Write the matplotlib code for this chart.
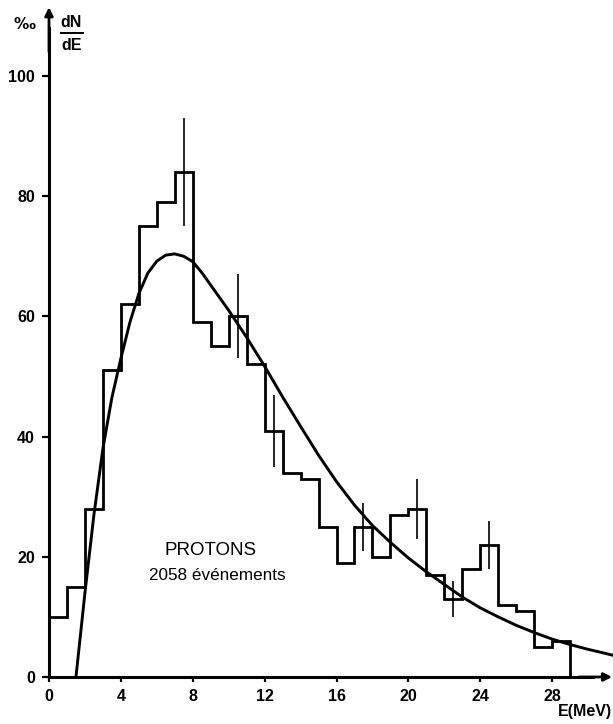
import matplotlib
matplotlib.use("Agg")
import matplotlib.pyplot as plt

# Proton energy spectrum: 1 MeV bins from 0 to 29 MeV (per mille)
bin_edges = list(range(0, 30))
counts = [10, 15, 28, 51, 62, 75, 79, 84, 59, 55, 60, 52, 41, 34, 33,
          25, 19, 25, 20, 27, 28, 17, 13, 18, 22, 12, 11, 5, 6]

# Statistical error bars on selected bins
err_E = [7.5, 10.5, 12.5, 17.5, 20.5, 22.5, 24.5]
err_lo = [75, 53, 35, 21, 23, 10, 18]
err_hi = [93, 67, 47, 29, 33, 16, 26]

# Fitted evaporation spectrum
fit_E = [1.5, 2.0, 2.5, 3.0, 3.5, 4.0, 4.5, 5.0, 5.5, 6.0, 6.5, 7.0, 7.5,
         8.0, 8.5, 9.0, 9.5, 10, 11, 12, 13, 14, 15, 16, 17, 18, 19, 20,
         21, 22, 23, 24, 25, 26, 27, 28, 29, 30, 31, 31.4]
fit_val = [0, 14, 27, 38, 46.5, 53, 59, 63.8, 67.2, 69.2, 70.2, 70.4, 70.0,
           69.1, 67.3, 65.2, 63.1, 61.0, 56.5, 51.7, 46.6, 41.7, 36.9, 32.5,
           28.6, 25.2, 22.4, 19.8, 17.5, 15.4, 13.3, 11.5, 10.0, 8.6, 7.4,
           6.3, 5.4, 4.6, 3.9, 3.6]

x_ticks = [0, 4, 8, 12, 16, 20, 24, 28]
y_ticks = [0, 20, 40, 60, 80, 100]

W, H = 613, 724
fig = plt.figure(figsize=(W / 100, H / 100), dpi=100)

# pixel geometry of the plotting frame
x0_px, px_per_mev = 49.0, 17.97
y0_px, px_per_unit = 677.0, 6.01
xmin = -x0_px / px_per_mev
xmax = (W - x0_px) / px_per_mev
ymin = -(H - y0_px) / px_per_unit
ymax = y0_px / px_per_unit

ax = fig.add_axes([0, 0, 1, 1])
ax.set_xlim(xmin, xmax)
ax.set_ylim(ymin, ymax)

lw = 2.0
ax.stairs(counts, bin_edges, baseline=0, color="black", linewidth=lw)
ax.plot(fit_E, fit_val, color="black", linewidth=2.1, solid_capstyle="round")
ax.vlines(err_E, err_lo, err_hi, color="black", linewidth=1.2)

# axes drawn through the origin, with arrow heads
for s in ["top", "right"]:
    ax.spines[s].set_visible(False)
ax.spines["left"].set_position(("data", 0))
ax.spines["bottom"].set_position(("data", 0))
ax.spines["left"].set_bounds(0, 108)
ax.spines["bottom"].set_bounds(0, 30.3)
ax.spines["left"].set_linewidth(2.2)
ax.spines["bottom"].set_linewidth(2.2)
ax.annotate("", xy=(0, ymax - 1.2), xytext=(0, 104),
            arrowprops=dict(arrowstyle="-|>", color="black", lw=2.0,
                            mutation_scale=12, shrinkA=0, shrinkB=0))
ax.annotate("", xy=(xmax - 0.05, 0), xytext=(29.5, 0),
            arrowprops=dict(arrowstyle="-|>", color="black", lw=2.0,
                            mutation_scale=12, shrinkA=0, shrinkB=0))

tick_font = dict(family=["Liberation Sans", "DejaVu Sans"],
                 weight="bold", size=11.5)
ax.set_xticks(x_ticks)
ax.set_yticks(y_ticks)
ax.set_xticklabels([str(v) for v in x_ticks], fontdict=tick_font)
ax.set_yticklabels([str(v) for v in y_ticks], fontdict=tick_font)
ax.tick_params(axis="y", direction="out", length=5, width=1.6, pad=5)
ax.tick_params(axis="x", direction="out", length=3.5, width=1.6, pad=5)

ax.text(xmax - 0.05, ymin + 0.9, "E(MeV)", ha="right", va="bottom",
        **tick_font)
ax.text(-1.95, ymax - 4.0, "‰", ha="left", va="center",
        family=["DejaVu Sans"], weight="bold", size=11)
ax.text(1.25, ymax - 3.8, "dN", ha="center", va="center", **tick_font)
ax.plot([0.65, 1.9], [ymax - 5.55, ymax - 5.55], color="black", lw=1.4)
ax.text(1.25, ymax - 7.5, "dE", ha="center", va="center", **tick_font)

label_font = ["Liberation Sans", "DejaVu Sans"]
ax.text(9.0, 21.0, "PROTONS", ha="center", va="center",
        family=label_font, size=13.5)
ax.text(9.35, 16.9, "2058 événements", ha="center", va="center",
        family=label_font, size=12.3)

fig.savefig("out.png", dpi=100)
